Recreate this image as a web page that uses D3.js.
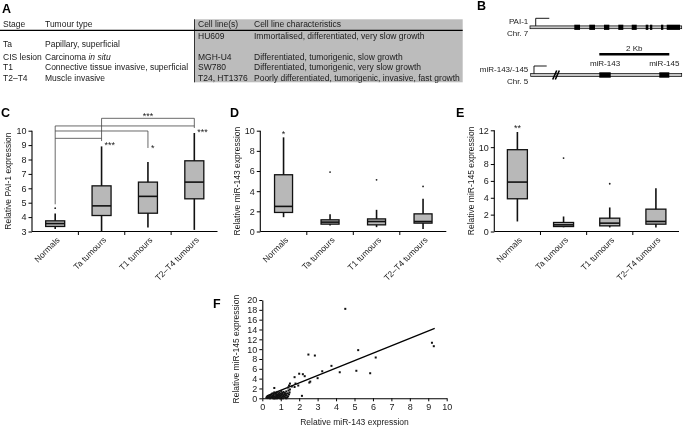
<!DOCTYPE html>
<html><head><meta charset="utf-8">
<script src="https://cdn.jsdelivr.net/npm/d3@7"></script>
<style>
body{margin:0;background:#fff}
svg{display:block;filter:grayscale(1)}
text{font-family:"Liberation Sans",Arial,Helvetica,sans-serif;fill:#1a1a1a}
</style>
</head><body>
<svg id="fig" width="685" height="427"></svg>
<script>
// ---------------- DATA ----------------
// Panel A table
const tableHeader = ["Stage", "Tumour type", "Cell line(s)", "Cell line characteristics"];
const tableStage = ["Ta", "CIS lesion", "T1", "T2\u2013T4"];
const tableType = ["Papillary, superficial", "Carcinoma |in situ|", "Connective tissue invasive, superficial", "Muscle invasive"];
const tableStageRow = [0.8, 2, 3, 4];
const tableCellLine = ["HU609", "MGH-U4", "SW780", "T24, HT1376"];
const tableCharacteristics = ["Immortalised, differentiated, very slow growth",
  "Differentiated, tumorigenic, slow growth",
  "Differentiated, tumorigenic, very slow growth",
  "Poorly differentiated, tumorigenic, invasive, fast growth"];
const tableCellRow = [0, 2, 3, 4];

// Panel B gene schematics (positions in kb)
const pai1GeneEnd = 4.334;
const pai1Exons = [[1.266,1.429],[1.694,1.857],[2.114,2.266],[2.523,2.666],[2.906,3.049],[3.306,3.380],[3.429,3.494],[3.743,3.809],[3.906,4.286]];
const mirGeneStart = 0.02, mirGeneEnd = 4.334;
const mirExons = [[1.98,2.306],[3.694,3.98]];
const mirNames = ["miR-143", "miR-145"];
const scaleBarKb = [1.98, 3.98];
const breakKb = 0.72;

// Panels C-E boxplots: [min, Q1, median, Q3, max]
const categories = ["Normals", "Ta tumours", "T1 tumours", "T2\u2013T4 tumours"];
const pai1Stats = [[3.18,3.35,3.55,3.74,4.25],[3.0,4.11,4.78,6.17,8.91],[3.28,4.27,5.44,6.43,7.82],[3.11,5.27,6.43,7.91,9.84]];
const pai1Outliers = [[0,4.62]];
const pai1Ticks = [3,4,5,6,7,8,9,10];
const pai1Brackets = [[1,3,10.86],[0,3,10.33],[0,2,9.98],[0,1,9.47]];
const pai1Drops = [[0,4.89],[1,9.28],[2,8.8],[3,10.19]];
const pai1Stars = [[2,11.16,"***","middle"],[1,9.16,"***","start"],[2,8.91,"*","start"],[3,10.07,"***","start"]];

const mir143Stats = [[1.42,1.89,2.49,5.63,9.34],[0.6,0.73,0.93,1.16,1.72],[0.43,0.66,0.99,1.25,2.15],[0.26,0.83,0.99,1.75,3.24]];
const mir143Outliers = [[1,5.9],[2,5.13],[3,4.47]];
const mir143Ticks = [0,2,4,6,8,10];
const mir143Stars = [[0,9.87,"*","middle"]];

const mir145Stats = [[1.19,3.88,5.86,9.7,11.8],[0.5,0.59,0.79,1.07,1.78],[0.48,0.67,0.99,1.58,2.85],[0.48,0.87,1.19,2.65,5.14]];
const mir145Outliers = [[1,8.71],[2,5.66]];
const mir145Ticks = [0,2,4,6,8,10,12];
const mir145Stars = [[0,12.48,"**","middle"]];

// Panel F scatter
const scatter143 = [4.5,2.5,2.85,5.2,6.15,3.75,3.25,4.2,5.1,5.85,9.2,9.3,2.0,2.2,2.3,1.75,3.0,2.55,2.15,1.5,1.45,1.8,1.75,0.65,1.95,1.4,1.6,2.6,
  0.22,0.25,0.28,0.3,0.32,0.35,0.38,0.4,0.42,0.45,0.48,0.5,0.52,0.55,0.55,0.58,0.6,0.62,0.65,0.65,0.68,0.7,0.72,0.75,0.75,0.78,0.8,0.8,0.82,0.85,0.85,0.88,0.9,0.9,0.92,0.95,0.95,0.98,1.0,1.0,1.02,1.05,1.05,1.08,1.1,1.1,1.12,1.15,1.15,1.18,1.2,1.22,1.25,1.25,1.28,1.3,1.32,1.35,1.38,1.4,1.42,1.45,1.48,1.5,1.3,0.6,0.7,1.0];
const scatter145 = [18.2,8.9,8.7,9.8,8.3,6.6,5.5,5.3,5.6,5.1,11.3,10.6,5.0,4.9,4.5,4.3,4.1,3.2,0.5,3.0,2.6,3.0,2.3,2.1,2.6,2.2,2.4,3.4,
  0.1,0.3,0.05,0.4,0.2,0.1,0.5,0.3,0.0,0.6,0.2,0.8,0.4,0.1,1.0,0.5,0.3,0.7,0.0,1.2,0.4,0.9,0.2,0.6,1.1,0.3,0.0,0.8,1.3,0.5,0.2,0.9,0.1,0.6,1.2,0.4,0.8,0.0,0.5,1.0,1.5,0.2,0.7,1.1,0.4,0.9,0.0,0.6,1.3,0.3,0.8,1.1,0.5,0.1,0.9,1.4,0.6,0.2,1.0,0.4,1.6,0.8,1.2,1.8,0.0,0.0,0.0,0.0];
const regSlope = 1.51, regIntercept = 0.1, regRange = [0.25, 9.35];
const scatterXTicks = d3.range(0, 11, 1);
const scatterYTicks = d3.range(0, 21, 2);

// ---------------- DRAW ----------------
const svg = d3.select("#fig");
const FS = 8.5;
const INK = "#1a1a1a";

function txt(parent) {
  return parent.append("text").style("fill", INK);
}
function panelLabel(t, x, y) {
  svg.append("text").attr("x", x).attr("y", y).text(t)
    .attr("font-size", 12.5).attr("font-weight", "bold").style("fill", "#000");
}

// ---- Panel A ----
panelLabel("A", 2, 12.5);
const tableCols = d3.scaleOrdinal().domain([0,1,2,3]).range([3, 45, 198, 254]);
const rowY = d3.scaleLinear().domain([0, 4]).range([36, 77.7]);
svg.append("rect").attr("x", 194).attr("y", 19.3).attr("width", 268.7).attr("height", 63)
  .attr("fill", "#bcbcbc");
svg.append("line").attr("x1", 194.5).attr("x2", 194.5).attr("y1", 19.3).attr("y2", 82.3)
  .attr("stroke", "#333").attr("stroke-width", 1);
svg.append("line").attr("x1", 0).attr("x2", 462.7).attr("y1", 30.3).attr("y2", 30.3)
  .attr("stroke", "#000").attr("stroke-width", 1.2);
tableHeader.forEach((h, i) => {
  txt(svg).attr("x", tableCols(i)).attr("y", 24.5).attr("dy", "0.35em")
    .attr("font-size", FS).text(h);
});
function richText(sel, str) {
  str.split("|").forEach((part, k) => {
    if (!part) return;
    sel.append("tspan").text(part).attr("font-style", k % 2 ? "italic" : "normal");
  });
}
tableStage.forEach((s, i) => {
  txt(svg).attr("x", tableCols(0)).attr("y", rowY(tableStageRow[i])).attr("dy", "0.35em")
    .attr("font-size", FS).text(s);
  const t = txt(svg).attr("x", tableCols(1)).attr("y", rowY(tableStageRow[i])).attr("dy", "0.35em")
    .attr("font-size", FS);
  richText(t, tableType[i]);
});
tableCellLine.forEach((s, i) => {
  txt(svg).attr("x", tableCols(2)).attr("y", rowY(tableCellRow[i])).attr("dy", "0.35em")
    .attr("font-size", FS).text(s);
  txt(svg).attr("x", tableCols(3)).attr("y", rowY(tableCellRow[i])).attr("dy", "0.35em")
    .attr("font-size", FS).text(tableCharacteristics[i]);
});

// ---- Panel B ----
panelLabel("B", 477, 10);
const kb = d3.scaleLinear().domain([0, 1]).range([530, 565]);
const gB = svg.append("g");
function gene(y, start, end, exons, promoterKb, arrowEndKb, exonH) {
  gB.append("rect").attr("x", kb(start)).attr("y", y - 1.4).attr("width", kb(end) - kb(start)).attr("height", 2.8)
    .attr("fill", "#c4c4c4").attr("stroke", "#000").attr("stroke-width", 0.7);
  gB.selectAll(null).data(exons).enter().append("rect")
    .attr("x", d => kb(d[0])).attr("width", d => kb(d[1]) - kb(d[0]))
    .attr("y", y - exonH / 2).attr("height", exonH).attr("fill", "#000");
  gB.append("path").attr("d", d3.line()([[kb(promoterKb), y - 1.4], [kb(promoterKb), y - 9], [kb(arrowEndKb), y - 9]]))
    .attr("fill", "none").attr("stroke", "#000").attr("stroke-width", 0.9);
}
gene(27.3, 0, pai1GeneEnd, pai1Exons, 0.163, 0.551, 5.2);
gene(75, mirGeneStart, mirGeneEnd, mirExons, 0.114, 0.477, 5.4);
function bText(t, x, y, anchor) {
  txt(gB).attr("x", x).attr("y", y).attr("dy", "0.35em").attr("text-anchor", anchor)
    .attr("font-size", 8).text(t);
}
bText("PAI-1", 528.3, 21.5, "end");
bText("Chr. 7", 528.3, 33.3, "end");
bText("miR-143/-145", 528.3, 69.3, "end");
bText("Chr. 5", 528.3, 81, "end");
bText("2 Kb", (kb(scaleBarKb[0]) + kb(scaleBarKb[1])) / 2, 48.3, "middle");
gB.append("line").attr("x1", kb(scaleBarKb[0])).attr("x2", kb(scaleBarKb[1])).attr("y1", 54.3).attr("y2", 54.3)
  .attr("stroke", "#000").attr("stroke-width", 2.6);
mirExons.forEach((e, i) => bText(mirNames[i], (kb(e[0]) + kb(e[1])) / 2, 63.3, "middle"));
[0, 2.6].forEach(o => {
  gB.append("line").attr("x1", kb(breakKb) - 2.5 + o).attr("y1", 79.5).attr("x2", kb(breakKb) + 1.5 + o).attr("y2", 70.5)
    .attr("stroke", "#000").attr("stroke-width", 1.6);
});

// ---- Boxplot panels ----
function boxPanel(cfg) {
  const g = svg.append("g");
  const x = d3.scaleBand().domain(categories).range([cfg.x0, cfg.x1]).padding(0);
  const y = d3.scaleLinear().domain(cfg.domain).range([231.5, cfg.yTop]);
  const cx = i => x(categories[0]) + x.step() * (i + 0.5);
  const bw = cfg.boxW;
  const ya = g.append("g").attr("transform", `translate(${cfg.x0},0)`)
    .call(d3.axisLeft(y).tickValues(cfg.ticks).tickSize(3.5).tickPadding(2).tickFormat(d3.format("d")));
  ya.select(".domain").attr("d", `M0,${y(cfg.domain[1])}V${y(cfg.domain[0])}`).attr("stroke", "#000").attr("stroke-width", 1.1);
  ya.selectAll(".tick line").attr("stroke", "#000").attr("stroke-width", 1);
  ya.selectAll("text").attr("font-size", 9).attr("font-family", null).style("fill", INK);
  const xa = g.append("g").attr("transform", `translate(0,${y(cfg.domain[0])})`)
    .call(d3.axisBottom(x).tickSize(0).tickPadding(0));
  xa.select(".domain").attr("d", `M${cfg.x0},0H${cfg.x1}`).attr("stroke", "#000").attr("stroke-width", 1.1);
  xa.selectAll("text").attr("font-size", FS).attr("font-family", null).style("fill", INK)
    .attr("text-anchor", "end").attr("dy", "0.35em")
    .attr("transform", "translate(3,7) rotate(-45)");
  g.selectAll(null).data(categories.slice(1)).enter().append("line")
    .attr("x1", d => x(d)).attr("x2", d => x(d)).attr("y1", y(cfg.domain[0])).attr("y2", y(cfg.domain[0]) + 3.5)
    .attr("stroke", "#000").attr("stroke-width", 1);
  txt(g).attr("transform", `translate(${cfg.ylx},${(y(cfg.domain[0]) + y(cfg.domain[1])) / 2}) rotate(-90)`)
    .attr("text-anchor", "middle").attr("dy", "0.35em").attr("font-size", FS).text(cfg.ylabel);
  (cfg.brackets || []).forEach(b => {
    g.append("line").attr("x1", cx(b[0])).attr("x2", cx(b[1])).attr("y1", y(b[2])).attr("y2", y(b[2]))
      .attr("stroke", "#444").attr("stroke-width", 0.8);
  });
  (cfg.drops || []).forEach(d => {
    const top = d3.max(cfg.brackets.filter(b => b[0] === d[0] || b[1] === d[0]), b => b[2]);
    g.append("line").attr("x1", cx(d[0])).attr("x2", cx(d[0])).attr("y1", y(top)).attr("y2", y(d[1]))
      .attr("stroke", "#444").attr("stroke-width", 0.8);
  });
  cfg.stats.forEach((s, i) => {
    g.append("line").attr("x1", cx(i)).attr("x2", cx(i)).attr("y1", y(s[0])).attr("y2", y(s[4]))
      .attr("stroke", "#111").attr("stroke-width", 1.6);
    g.append("rect").attr("x", cx(i) - bw / 2).attr("width", bw).attr("y", y(s[3])).attr("height", y(s[1]) - y(s[3]))
      .attr("fill", "#b8b8b8").attr("stroke", "#111").attr("stroke-width", 1.3);
    g.append("line").attr("x1", cx(i) - bw / 2).attr("x2", cx(i) + bw / 2).attr("y1", y(s[2])).attr("y2", y(s[2]))
      .attr("stroke", "#111").attr("stroke-width", 1.6);
  });
  g.selectAll(null).data(cfg.outliers).enter().append("circle")
    .attr("cx", d => cx(d[0])).attr("cy", d => y(d[1])).attr("r", 0.9).attr("fill", "#222");
  (cfg.stars || []).forEach(s => {
    txt(g).attr("x", cx(s[0]) + (s[3] === "start" ? 3 : 0)).attr("y", y(s[1]) + 5)
      .attr("text-anchor", s[3]).attr("font-size", 9).text(s[2]);
  });
}

panelLabel("C", 1, 117);
boxPanel({x0: 32, x1: 217.5, yTop: 130.7, domain: [3, 10], ticks: pai1Ticks, stats: pai1Stats, outliers: pai1Outliers,
  boxW: 19, ylabel: "Relative PAI-1 expression", ylx: 8, brackets: pai1Brackets, drops: pai1Drops, stars: pai1Stars});
panelLabel("D", 230, 117);
boxPanel({x0: 260.3, x1: 446.3, yTop: 130.7, domain: [0, 10], ticks: mir143Ticks, stats: mir143Stats, outliers: mir143Outliers,
  boxW: 18, ylabel: "Relative miR-143 expression", ylx: 237.5, stars: mir143Stars});
panelLabel("E", 456, 117);
boxPanel({x0: 494.3, x1: 679, yTop: 130.3, domain: [0, 12], ticks: mir145Ticks, stats: mir145Stats, outliers: mir145Outliers,
  boxW: 20, ylabel: "Relative miR-145 expression", ylx: 471, stars: mir145Stars});

// ---- Panel F ----
panelLabel("F", 213, 307.5);
(function () {
  const g = svg.append("g");
  const x = d3.scaleLinear().domain([0, 10]).range([262.3, 446.7]);
  const y = d3.scaleLinear().domain([0, 20]).range([398.3, 300]);
  const ya = g.append("g").attr("transform", `translate(${x(0)},0)`)
    .call(d3.axisLeft(y).tickValues(scatterYTicks).tickSize(3).tickPadding(2).tickSizeOuter(0));
  const xa = g.append("g").attr("transform", `translate(0,${y(0)})`)
    .call(d3.axisBottom(x).tickValues(scatterXTicks).tickSize(3).tickPadding(2).tickSizeOuter(0));
  [ya, xa].forEach(a => {
    a.select(".domain").attr("stroke", "#000").attr("stroke-width", 1.1);
    a.selectAll(".tick line").attr("stroke", "#000");
    a.selectAll("text").attr("font-size", 9).attr("font-family", null).style("fill", INK);
  });
  txt(g).attr("transform", `translate(236.5,${(y(0) + y(20)) / 2}) rotate(-90)`)
    .attr("text-anchor", "middle").attr("dy", "0.35em").attr("font-size", FS).text("Relative miR-145 expression");
  txt(g).attr("x", (x(0) + x(10)) / 2).attr("y", 421.7).attr("dy", "0.35em")
    .attr("text-anchor", "middle").attr("font-size", FS).text("Relative miR-143 expression");
  g.append("line").attr("x1", x(regRange[0])).attr("y1", y(regSlope * regRange[0] + regIntercept))
    .attr("x2", x(regRange[1])).attr("y2", y(regSlope * regRange[1] + regIntercept))
    .attr("stroke", "#000").attr("stroke-width", 1.3);
  g.selectAll(null).data(d3.zip(scatter143, scatter145)).enter().append("rect")
    .attr("x", d => x(d[0]) - 1).attr("y", d => y(d[1]) - 1).attr("width", 2).attr("height", 2).attr("fill", "#111");
})();
</script>
</body></html>
